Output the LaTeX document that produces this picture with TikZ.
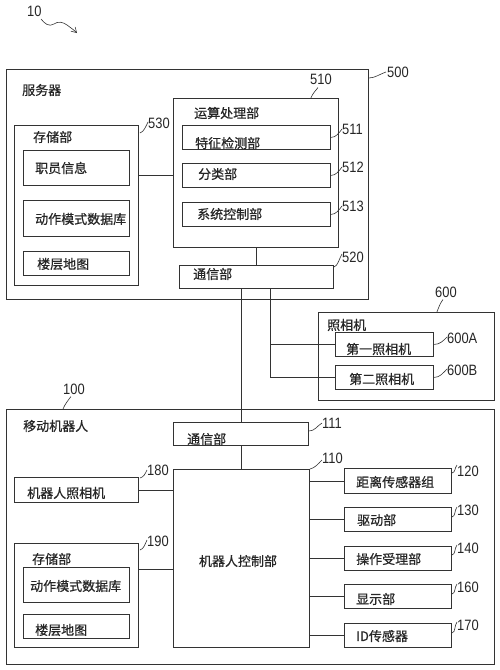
\documentclass[tikz,border=0pt]{standalone}
\usepackage{fontspec}
\setmainfont{Liberation Sans}
\newfontfamily\cjk[FakeBold=0.6]{Noto Sans CJK SC}
\newfontfamily\numfont[FakeStretch=0.86]{Liberation Sans}
\usetikzlibrary{calc,arrows.meta}
\tikzset{
  box/.style={draw=black!80, line width=0.9pt, inner sep=0pt, anchor=north west},
  txt/.style={inner sep=0pt, anchor=west, font=\cjk\fontsize{13}{13}\selectfont, text=black!85},
  num/.style={inner sep=0pt, anchor=west, font=\numfont\fontsize{15}{15}\selectfont, text=black!85},
  conn/.style={draw=black!80, line width=0.9pt},
  leader/.style={draw=black!80, line width=0.6pt},
}
\newcommand{\mybox}[5]{\node[box, minimum width=#4pt-#2pt, minimum height=#5pt-#3pt] (#1) at (#2,#3) {};}
\begin{document}
\begin{tikzpicture}[x=1pt,y=-1pt]
\useasboundingbox (0,0) rectangle (500,670);
\fill[white] (0,0) rectangle (500,670);

% 10 label and squiggle
\node[num] (l10) at (27,11) {10};
\coordinate (sq1) at (41,19);
\coordinate (sq2) at (77,33);
\draw[leader, -{Straight Barb[length=5pt,width=6pt]}] (sq1) .. controls (45,24) and (49,27) .. (54,24) .. controls (58,21) and (63,22) .. (67,25) .. controls (71,28) and (74,30) .. (sq2);

% Server
\mybox{srv}{6}{69}{368}{299}
\node[txt] (t500) at (22,90) {服务器};
\mybox{st5}{14}{125}{138}{285}
\node[txt] (t530) at (33,137) {存储部};
\mybox{st5a}{23}{150}{129}{185}
\node[txt] (t5a) at (35,168) {职员信息};
\mybox{st5b}{23}{200}{129}{236}
\node[txt] (t5b) at (35,219) {动作模式数据库};
\mybox{st5c}{23}{251}{129}{275}
\node[txt] (t5c) at (37,264) {楼层地图};
\mybox{cp}{173}{98}{338}{247}
\node[txt] (t510) at (194,113) {运算处理部};
\mybox{c511}{182}{125}{330}{149}
\node[txt] (t511) at (195,143) {特征检测部};
\mybox{c512}{182}{163}{330}{187}
\node[txt] (t512) at (198,174) {分类部};
\mybox{c513}{182}{202}{330}{226}
\node[txt] (t513) at (197,214) {系统控制部};
\mybox{com5}{179}{265}{333}{288}
\node[txt] (t520) at (193,274) {通信部};

% Cameras
\mybox{cam}{318}{312}{494}{400}
\node[txt] (t600) at (327,325) {照相机};
\mybox{camA}{335}{332}{433}{356}
\node[txt] (t600a) at (346,349) {第一照相机};
\mybox{camB}{335}{365}{433}{389}
\node[txt] (t600b) at (349,379) {第二照相机};

% Robot
\mybox{rob}{6}{409}{494}{664}
\node[txt] (t100) at (23,426) {移动机器人};
\mybox{com1}{173}{422}{308}{445}
\node[txt] (t111) at (187,439) {通信部};
\mybox{rc}{173}{469}{309}{647}
\node[txt, anchor=center] (t110) at (238,561) {机器人控制部};
\mybox{rcam}{14}{477}{138}{502}
\node[txt] (t180) at (27,493) {机器人照相机};
\mybox{s120}{344}{468}{451}{493}
\node[txt] (t120) at (356,482) {距离传感器组};
\mybox{s130}{344}{507}{451}{531}
\node[txt] (t130) at (357,520) {驱动部};
\mybox{s140}{344}{546}{451}{570}
\node[txt] (t140) at (356,559) {操作受理部};
\mybox{s160}{344}{584}{451}{608}
\node[txt] (t160) at (356,599) {显示部};
\mybox{s170}{344}{623}{451}{647}
\node[txt] (t170) at (356,636) {ID传感器};
\mybox{st1}{14}{543}{138}{647}
\node[txt] (t190) at (32,559) {存储部};
\mybox{st1a}{23}{567}{129}{602}
\node[txt] (t1a) at (30,586) {动作模式数据库};
\mybox{st1b}{23}{614}{129}{638}
\node[txt] (t1b) at (35,630) {楼层地图};

% connectors
\draw[conn] (st5.east |- c512.west) -- (cp.west |- c512.west);
\draw[conn] (cp.south) -- (cp.south |- com5.north);
\draw[conn] (com1.north) -- (com1.north |- com5.south);
\coordinate (jx) at (270,300);
\draw[conn] (jx |- com5.south) -- (jx |- camB.west) -- (camB.west);
\draw[conn] (jx |- camA.west) -- (camA.west);
\draw[conn] (com1.south) -- (com1.south |- rc.north);
\draw[conn] (rcam.east) -- (rcam.east -| rc.west);
\coordinate (y569) at (100,569);
\draw[conn] (st1.east |- y569) -- (rc.west |- y569);
\foreach \b in {s120,s130,s140,s160,s170}{
  \draw[conn] (\b.west -| rc.east) -- (\b.west);
}

% reference numbers
\node[num] (n500) at (387,72) {500};
\node[num] (n510) at (310,79) {510};
\node[num] (n530) at (148,123) {530};
\node[num] (n511) at (342,129) {511};
\node[num] (n512) at (342,167) {512};
\node[num] (n513) at (342,206) {513};
\node[num] (n520) at (342,257) {520};
\node[num] (n600) at (435,292) {600};
\node[num] (n600a) at (447,338) {600A};
\node[num] (n600b) at (447,370) {600B};
\node[num] (n100) at (63,389) {100};
\node[num] (n111) at (322,423) {111};
\node[num] (n110) at (322,458) {110};
\node[num] (n180) at (147,470) {180};
\node[num] (n120) at (457,471) {120};
\node[num] (n130) at (457,510) {130};
\node[num] (n140) at (457,548) {140};
\node[num] (n160) at (457,587) {160};
\node[num] (n170) at (457,625) {170};
\node[num] (n190) at (147,541) {190};

% leaders
\draw[leader] ($(srv.north east)+(0,9)$) .. controls +(6,0) and +(-6,2) .. ($(n500.west)+(-1,0)$);
\draw[leader] ($(cp.north east)+(-28,0)$) .. controls +(2,-5) and +(-3,4) .. ($(n510.south west)+(8,3)$);
\draw[leader] ($(st5.north east)+(1,8)$) .. controls +(4,-1) and +(-2,4) .. ($(n530.west)+(0,-1)$);
\draw[leader] (c511.east) .. controls +(5,0) and +(-3,4) .. ($(n511.west)+(0,0)$);
\draw[leader] (c512.east) .. controls +(5,0) and +(-3,4) .. ($(n512.west)+(0,0)$);
\draw[leader] (c513.east) .. controls +(5,0) and +(-3,4) .. ($(n513.west)+(0,0)$);
\draw[leader] ($(com5.north east)+(0,2)$) .. controls +(4,-1) and +(-3,5) .. ($(n520.west)+(0,-3)$);
\draw[leader] ($(cam.north east)+(-58,0)$) .. controls +(2,-5) and +(-3,4) .. ($(n600.south west)+(8,2)$);
\draw[leader] (camA.east) .. controls +(6,0) and +(-4,4) .. ($(n600a.west)+(0,-1)$);
\draw[leader] (camB.east) .. controls +(6,0) and +(-4,4) .. ($(n600b.west)+(0,-1)$);
\draw[leader] ($(rob.north west)+(57,0)$) .. controls +(2,-5) and +(-3,4) .. ($(n100.south west)+(8,2)$);
\draw[leader] ($(com1.north east)+(0,9)$) .. controls +(6,0) and +(-5,3) .. ($(n111.west)+(0,0)$);
\draw[leader] (rc.north east) .. controls +(5,-1) and +(-4,4) .. ($(n110.west)+(0,2)$);
\draw[leader] ($(rcam.north east)+(1,1)$) .. controls +(4,-1) and +(-2,4) .. ($(n180.west)+(0,0)$);
\draw[leader] ($(s120.north east)+(0,5)$) .. controls +(4,-1) and +(-3,4) .. ($(n120.west)+(0,-6)$);
\draw[leader] ($(s130.north east)+(0,10)$) .. controls +(4,-1) and +(-3,4) .. ($(n130.west)+(0,-3)$);
\draw[leader] ($(s140.north east)+(0,9)$) .. controls +(4,-1) and +(-3,4) .. ($(n140.west)+(0,-3)$);
\draw[leader] ($(s160.north east)+(0,10)$) .. controls +(4,-1) and +(-3,4) .. ($(n160.west)+(0,-3)$);
\draw[leader] ($(s170.north east)+(0,10)$) .. controls +(4,-1) and +(-3,4) .. ($(n170.west)+(0,-3)$);
\draw[leader] ($(st1.north east)+(1,7)$) .. controls +(4,-1) and +(-2,4) .. ($(n190.west)+(0,-1)$);
\end{tikzpicture}
\end{document}
